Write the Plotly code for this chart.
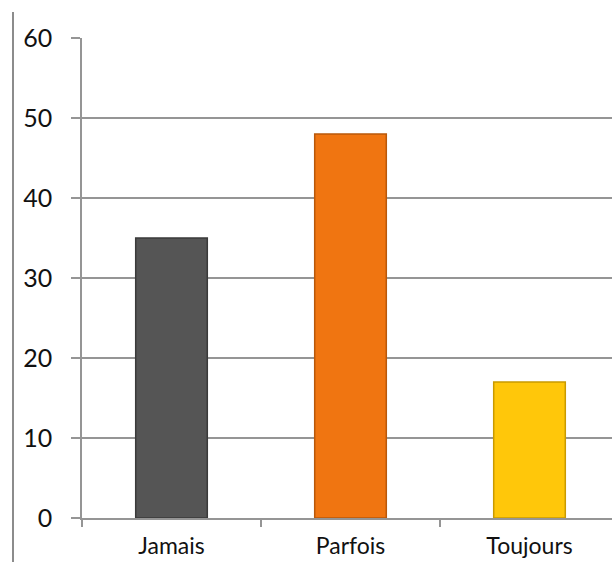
import plotly.graph_objects as go

categories = ["Jamais", "Parfois", "Toujours"]
values = [35, 48, 17]
colors = ["#555555", "#F07511", "#FFC70A"]
edge_colors = ["#3a3a3a", "#b9580a", "#c99a00"]
y_ticks = [0, 10, 20, 30, 40, 50, 60]

fig = go.Figure()
fig.add_trace(go.Bar(
    x=categories, y=values,
    marker=dict(color=colors, line=dict(color=edge_colors, width=1.5)),
    width=0.40,
))

fig.update_layout(
    width=612, height=562,
    margin=dict(l=82, r=0, t=38, b=44, autoexpand=False),
    paper_bgcolor="white", plot_bgcolor="white",
    showlegend=False,
    font=dict(family="Lato", size=24, color="#111111"),
    xaxis=dict(
        range=[-0.5, -0.5 + 530 / 179], showgrid=False, automargin=False,
        showline=True, linecolor="#959595", linewidth=1.5,
        ticks="outside", tickson="boundaries", ticklen=7, tickcolor="#959595", tickwidth=1.5,
        ticklabelstandoff=7, tickfont=dict(size=23),
    ),
    yaxis=dict(
        range=[0, 60], tickvals=y_ticks, automargin=False,
        showgrid=True, gridcolor="#959595", gridwidth=1.5,
        showline=True, linecolor="#959595", linewidth=1.5,
        ticks="outside", ticklen=9, tickcolor="#959595", tickwidth=1.5,
        ticklabelstandoff=14, zeroline=False, tickfont=dict(size=25),
    ),
    shapes=[dict(type="line", xref="paper", yref="paper",
                 x0=-69 / 530, x1=-69 / 530, y0=(518 - 12) / 480, y1=(518 - 570) / 480,
                 line=dict(color="#8c8c8c", width=2))],
)

fig.write_html(
    "out.html",
    config={"displayModeBar": False},
    post_script="document.body.style.margin='0px';document.body.style.overflow='hidden';",
)
